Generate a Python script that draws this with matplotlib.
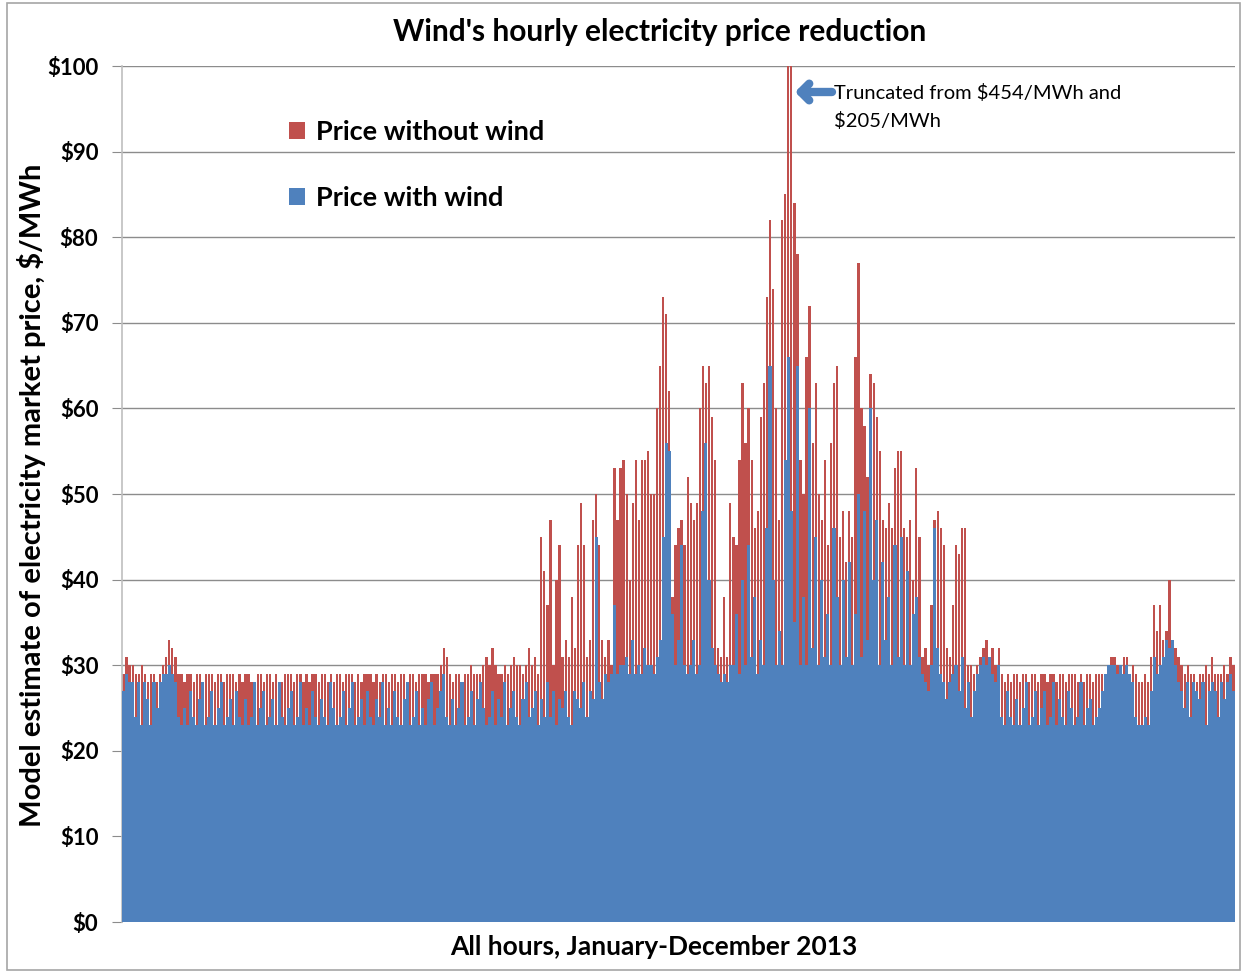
import numpy as np
import matplotlib
matplotlib.use("Agg")
import matplotlib.pyplot as plt
from matplotlib.patches import Patch, Rectangle

# ---- Data: daily-resolution reading of the hourly chart (365 columns) ----
price_without_wind = (
    [29,31,30,30,29,29,30,29,28,29,29,28,29,30,31,33,32,31,29,29] +
    [28,29,29,28,29,29,28,29,29,29,28,29,29,28,29,29,29,28,29,28] +
    [29,29,28,28,29,29,28,29,29,28,29,28,28,29,29,29,28,29,29,28] +
    [29,28,29,29,28,29,29,28,29,28,29,29,28,29,29,29,28,29,28,29] +
    [29,29,28,29,28,29,29,28,29,29,28,29,29,28,29,29,28,29,29,29] +
    [28,29,29,29,30,32,31,29,28,29,29,28,29,29,30,29,29,29,30,31] +
    [30,32,30,29,29,30,29,30,31,30,30,29,30,32,30,31,29,45,41,37] +
    [47,30,40,44,31,33,31,38,32,44,49,44,31,33,47,50,44,33,31,33] +
    [30,53,47,53,54,50,40,49,54,47,54,54,55,50,50,60,65,73,71,62] +
    [38,44,46,47,44,52,49,47,49,60,65,63,65,59,54,32,31,38,31,49] +
    [45,44,54,63,56,60,54,46,48,59,63,73,82,74,60,47,82,85,454,205] +
    [84,78,54,50,66,72,56,63,50,47,54,44,56,63,65,45,48,42,48,45] +
    [66,77,60,58,52,64,63,59,55,47,46,49,46,53,55,55,46,45,47,40] +
    [53,45,31,32,30,37,47,48,46,44,32,31,37,44,43,46,46,30,30,29] +
    [30,31,32,33,31,32,30,32,29,28,29,28,29,29,28,29,29,28,29,29] +
    [28,29,29,28,29,29,28,29,29,28,29,29,29,28,29,28,29,29,28,29] +
    [29,29,28,30,31,31,30,30,31,31,29,30,29,28,28,29,28,31,37,34] +
    [37,33,34,40,33,32,31,30,29,30,29,29,28,29,29,30,29,31,29,29,29,30,29,31,30]
)

price_with_wind = (
    [27,29,28,28,24,28,23,28,26,23,28,25,28,29,29,30,29,28,24,23] +
    [25,23,27,24,23,26,28,23,24,27,23,25,28,23,24,26,23,27,24,23] +
    [26,23,24,28,23,25,27,23,24,26,23,28,24,23,25,27,23,24,28,23] +
    [25,23,27,24,23,26,24,23,28,25,23,24,27,23,25,28,23,24,26,23] +
    [27,24,23,26,24,28,23,25,23,27,24,23,26,28,23,24,27,23,25,23] +
    [26,28,23,25,27,29,24,23,26,23,25,28,23,24,27,23,26,28,25,23] +
    [24,27,23,26,24,28,23,25,27,24,23,26,28,24,25,27,23,26,24,28] +
    [24,27,23,26,25,27,24,23,27,26,25,28,24,27,26,45,28,26,29,28] +
    [29,37,29,30,30,31,29,33,29,30,29,32,30,30,29,31,33,45,56,55] +
    [36,30,33,44,30,29,30,33,29,30,48,56,40,32,30,29,28,29,28,30] +
    [30,36,29,40,30,44,31,38,29,33,30,46,65,40,30,34,30,54,66,48] +
    [35,65,30,38,30,60,32,45,30,40,31,36,30,46,38,30,40,31,42,30] +
    [36,50,31,48,33,60,40,47,30,42,33,38,30,44,31,45,30,41,30,36] +
    [38,31,29,28,27,30,46,32,29,28,26,28,29,30,27,31,25,28,24,27] +
    [29,30,31,30,31,29,28,30,24,23,27,24,23,26,23,25,28,23,24,27] +
    [23,25,27,23,24,28,23,26,24,23,27,25,23,24,28,23,25,26,23,24] +
    [25,27,29,30,30,30,29,30,29,30,29,28,24,23,23,24,23,27,31,29] +
    [30,31,33,32,33,30,28,27,25,28,24,28,27,26,28,23,27,28,27,24,28,26,28,29,27]
)

y_ticks = [0, 10, 20, 30, 40, 50, 60, 70, 80, 90, 100]
y_tick_labels = ["$0", "$10", "$20", "$30", "$40", "$50", "$60", "$70", "$80", "$90", "$100"]

assert len(price_without_wind) == len(price_with_wind) == 365, (len(price_without_wind), len(price_with_wind))

RED = "#C0504D"
BLUE = "#4F81BD"
GRID = "#8C8C8C"
FONT = "Lato"

W, H = 1244, 972
fig = plt.figure(figsize=(W / 100, H / 100), dpi=100)
ax = fig.add_axes([122 / W, 1 - 922 / H, (1235 - 122) / W, (922 - 66) / H])

x = np.arange(len(price_without_wind))
ax.bar(x, price_without_wind, width=0.75, color=RED, linewidth=0, zorder=2)
ax.bar(x, price_with_wind, width=1.0, color=BLUE, linewidth=0, antialiased=False, zorder=3)

ax.set_xlim(-0.5, len(x) - 0.5)
ax.set_ylim(0, 100)
ax.set_yticks(y_ticks)
ax.set_yticklabels(y_tick_labels, fontfamily=FONT, fontweight="bold", fontsize=16)
ax.set_xticks([])
ax.grid(axis="y", color=GRID, linewidth=1.0, zorder=0)
ax.set_axisbelow(True)
for s in ["top", "right", "bottom"]:
    ax.spines[s].set_visible(False)
ax.spines["left"].set_color("#BFBFBF")
ax.spines["left"].set_linewidth(1.2)
ax.tick_params(axis="y", direction="out", length=7, color=GRID, pad=10)

ax.set_xlabel("All hours, January-December 2013", fontfamily=FONT, fontweight="bold",
              fontsize=19)
ax.xaxis.set_label_coords((654 - 122) / 1113, -0.0155)
ax.set_ylabel("Model estimate of electricity market price, $/MWh", fontfamily=FONT,
              fontweight="bold", fontsize=21)
ax.yaxis.set_label_coords(-(122 - 46) / 1113, (922 - 495) / 856)

fig.text(660 / W, 1 - 32 / H, "Wind's hourly electricity price reduction", ha="center",
         va="center", fontfamily=FONT, fontweight="bold", fontsize=21.5)

handles = [Patch(facecolor=RED, edgecolor="none"), Patch(facecolor=BLUE, edgecolor="none")]
ax.legend(handles, ["Price without wind", "Price with wind"], loc="upper left",
          bbox_to_anchor=(289 / W, 1 - 120 / H), bbox_transform=fig.transFigure,
          frameon=False, prop={"family": FONT, "weight": "bold", "size": 19.5},
          handlelength=0.6, handleheight=0.6, handletextpad=0.4, labelspacing=1.55,
          borderpad=0, borderaxespad=0)

# annotation for the truncated peaks
ax.annotate("", xy=(795, H - 92), xycoords="figure pixels",
            xytext=(832, H - 92), textcoords="figure pixels",
            arrowprops=dict(arrowstyle="->,head_length=0.6,head_width=0.6",
                            color=BLUE, lw=6, capstyle="round", joinstyle="round",
                            shrinkA=0, shrinkB=0))
fig.text(834 / W, 1 - 107 / H, "Truncated from $454/MWh and\n$205/MWh", ha="left",
         va="center", fontfamily=FONT, fontsize=14.5, linespacing=1.7)

fig.patches.append(Rectangle((7 / W, 2 / H), (1240 - 7) / W, (969 - 2) / H,
                             transform=fig.transFigure, fill=False,
                             edgecolor="#A6A6A6", linewidth=1.2))

fig.savefig("out.png", dpi=100)
